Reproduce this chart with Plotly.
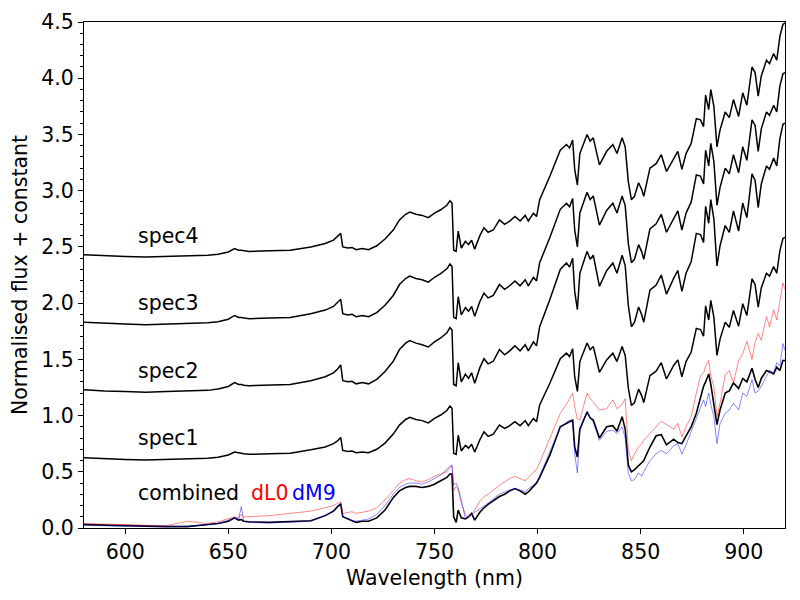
import plotly.graph_objects as go

# Wavelength knots (nm)
wavelength = [580, 590, 600, 610, 620, 630, 640, 645, 650, 653,
              655, 656.3, 657.5, 660, 670, 680, 690, 697, 701, 703,
              704.5, 705.5, 708, 710, 712, 715, 718, 722, 726, 730,
              733, 736, 738, 741, 744, 747, 750, 753, 756, 757.5,
              758.5, 759.3, 760.5, 761.5, 763, 765, 766.5, 768, 769.5, 772,
              774, 776, 778.5, 781.5, 784, 786.5, 789, 791.5, 794, 795.5,
              798, 799.5, 801, 806, 811, 814, 815.5, 817, 818, 819.3,
              820.5, 824, 825.5, 827, 830, 833.5, 836.5, 838.5, 841, 842.5,
              844, 845.5, 847, 849, 850.5, 851.5, 854.5, 857.5, 860, 862.5,
              866, 868, 870, 872, 874.5, 877, 879, 880.5, 881.5, 883,
              884, 885.5, 887, 888.5, 891, 893, 895, 897.5, 899.5, 901.5,
              904, 905.5, 907, 908.5, 911, 912.5, 914.5, 916, 917.5, 919, 920]

# Combined spectrum and the two templates
combined = [0.03, 0.025, 0.022, 0.018, 0.012, 0.012, 0.03, 0.04, 0.06, 0.09,
            0.07, 0.075, 0.06, 0.055, 0.05, 0.055, 0.065, 0.11, 0.15, 0.19,
            0.215, 0.10, 0.08, 0.07, 0.05, 0.06, 0.06, 0.09, 0.16, 0.27,
            0.33, 0.36, 0.37, 0.37, 0.36, 0.37, 0.39, 0.42, 0.45, 0.48,
            0.48, 0.10, 0.05, 0.16, 0.09, 0.08, 0.10, 0.13, 0.07, 0.14,
            0.18, 0.21, 0.24, 0.28, 0.30, 0.33, 0.35, 0.33, 0.30, 0.32,
            0.37, 0.40, 0.45, 0.65, 0.90, 0.93, 0.95, 0.96, 0.72, 0.63,
            0.88, 1.03, 0.98, 0.96, 0.80, 0.90, 0.91, 0.86, 0.99, 0.88,
            0.56, 0.50, 0.52, 0.55, 0.58, 0.60, 0.72, 0.82, 0.83, 0.74,
            0.79, 0.76, 0.75, 0.82, 0.90, 1.02, 1.16, 1.26, 1.30, 1.37,
            1.28, 1.10, 0.92, 1.05, 1.20, 1.22, 1.29, 1.24, 1.33, 1.30,
            1.42, 1.32, 1.25, 1.33, 1.40, 1.39, 1.37, 1.43, 1.40, 1.49, 1.49]

dL0 = [0.04, 0.035, 0.03, 0.03, 0.02, 0.06, 0.04, 0.055, 0.08, 0.10,
       0.09, 0.12, 0.10, 0.10, 0.11, 0.13, 0.15, 0.18, 0.20, 0.22,
       0.235, 0.13, 0.14, 0.145, 0.13, 0.14, 0.15, 0.18, 0.25, 0.33,
       0.40, 0.43, 0.44, 0.42, 0.41, 0.43, 0.46, 0.48, 0.50, 0.54,
       0.55, 0.33, 0.37, 0.34, 0.22, 0.12, 0.10, 0.12, 0.16, 0.24,
       0.28, 0.30, 0.34, 0.38, 0.41, 0.44, 0.46, 0.44, 0.42, 0.45,
       0.49, 0.52, 0.58, 0.80, 1.02, 1.10, 1.15, 1.20, 1.08, 0.97,
       0.96, 1.20, 1.15, 1.12, 1.05, 1.06, 1.14, 1.06, 1.10, 1.15,
       0.69, 0.60, 0.66, 0.72, 0.75, 0.78, 0.84, 0.90, 0.95, 0.92,
       0.88, 0.93, 0.81, 0.90, 0.99, 1.20, 1.35, 1.38, 1.44, 1.49,
       1.35, 1.26, 0.99, 1.11, 1.36, 1.40, 1.29, 1.49, 1.55, 1.66,
       1.50, 1.65, 1.73, 1.67, 1.88, 1.79, 1.94, 1.85, 2.00, 2.18, 2.12]

dM9 = [0.03, 0.02, 0.018, 0.015, 0.012, 0.015, 0.03, 0.04, 0.07, 0.09,
       0.08, 0.19, 0.06, 0.05, 0.045, 0.05, 0.06, 0.11, 0.15, 0.19,
       0.22, 0.10, 0.08, 0.065, 0.06, 0.07, 0.08, 0.12, 0.20, 0.30,
       0.36, 0.39, 0.40, 0.40, 0.39, 0.41, 0.44, 0.47, 0.52, 0.55,
       0.56, 0.38, 0.40, 0.36, 0.25, 0.08, 0.09, 0.12, 0.14, 0.17,
       0.20, 0.22, 0.26, 0.30, 0.32, 0.34, 0.35, 0.34, 0.32, 0.35,
       0.38, 0.41, 0.46, 0.68, 0.90, 0.94, 0.96, 0.95, 0.66, 0.49,
       0.86, 1.04, 0.98, 0.94, 0.78, 0.86, 0.87, 0.84, 0.90, 0.80,
       0.49, 0.42, 0.43, 0.49, 0.46, 0.50, 0.60, 0.66, 0.69, 0.66,
       0.73, 0.75, 0.66, 0.74, 0.86, 0.97, 1.07, 1.14, 1.08, 1.20,
       1.10, 0.99, 0.75, 0.93, 1.02, 1.05, 1.11, 1.05, 1.20, 1.17,
       1.32, 1.20, 1.22, 1.26, 1.35, 1.40, 1.38, 1.47, 1.44, 1.64, 1.58]

# Individual spectra (normalised flux, before the constant is added)
spec1 = [0.00, -0.01, -0.015, -0.02, -0.015, -0.01, -0.005, 0.005, 0.025, 0.05,
         0.04, 0.04, 0.035, 0.03, 0.035, 0.04, 0.07, 0.095, 0.125, 0.15,
         0.18, 0.065, 0.055, 0.06, 0.045, 0.05, 0.045, 0.075, 0.13, 0.21,
         0.29, 0.34, 0.36, 0.34, 0.33, 0.31, 0.35, 0.38, 0.42, 0.46,
         0.44, 0.04, 0.03, 0.20, 0.06, 0.11, 0.085, 0.12, 0.05, 0.16,
         0.23, 0.19, 0.21, 0.29, 0.26, 0.285, 0.32, 0.285, 0.33, 0.285,
         0.35, 0.32, 0.47, 0.665, 0.88, 0.93, 0.90, 0.97, 0.72, 0.59,
         0.855, 1.02, 0.96, 0.99, 0.76, 0.87, 0.93, 0.855, 0.99, 0.91,
         0.62, 0.465, 0.49, 0.61, 0.55, 0.49, 0.73, 0.77, 0.845, 0.70,
         0.82, 0.87, 0.72, 0.855, 0.94, 1.15, 1.14, 1.08, 1.35, 1.225,
         1.40, 1.25, 0.91, 1.055, 1.205, 1.16, 1.31, 1.17, 1.37, 1.265,
         1.59, 1.54, 1.34, 1.51, 1.64, 1.615, 1.70, 1.64, 1.84, 1.95, 1.96]

spec2 = [0.00, -0.012, -0.017, -0.023, -0.017, -0.014, -0.006, 0.006, 0.029, 0.063,
         0.046, 0.046, 0.04, 0.035, 0.04, 0.046, 0.08, 0.115, 0.15, 0.184,
         0.22, 0.08, 0.07, 0.075, 0.052, 0.063, 0.052, 0.092, 0.161, 0.253,
         0.357, 0.414, 0.437, 0.414, 0.40, 0.38, 0.425, 0.46, 0.506, 0.552,
         0.53, 0.046, 0.035, 0.24, 0.07, 0.138, 0.10, 0.15, 0.058, 0.196,
         0.276, 0.23, 0.253, 0.357, 0.31, 0.345, 0.39, 0.345, 0.40, 0.345,
         0.425, 0.39, 0.56, 0.805, 1.07, 1.127, 1.09, 1.17, 0.874, 0.713,
         1.035, 1.23, 1.16, 1.196, 0.92, 1.058, 1.127, 1.035, 1.196, 1.104,
         0.75, 0.56, 0.60, 0.736, 0.667, 0.60, 0.886, 0.93, 1.02, 0.85,
         0.99, 1.06, 0.874, 1.035, 1.14, 1.39, 1.38, 1.31, 1.63, 1.48,
         1.69, 1.52, 1.10, 1.28, 1.46, 1.40, 1.59, 1.41, 1.66, 1.53,
         1.92, 1.86, 1.62, 1.83, 1.99, 1.96, 2.06, 1.99, 2.23, 2.36, 2.37]

spec3 = [0.00, -0.01, -0.016, -0.022, -0.016, -0.013, -0.005, 0.005, 0.027, 0.06,
         0.043, 0.043, 0.038, 0.032, 0.038, 0.043, 0.076, 0.108, 0.14, 0.173,
         0.205, 0.076, 0.065, 0.07, 0.049, 0.059, 0.049, 0.086, 0.151, 0.238,
         0.335, 0.389, 0.41, 0.389, 0.378, 0.356, 0.40, 0.432, 0.475, 0.518,
         0.497, 0.043, 0.032, 0.227, 0.065, 0.13, 0.097, 0.14, 0.054, 0.184,
         0.259, 0.216, 0.238, 0.335, 0.292, 0.324, 0.367, 0.324, 0.378, 0.324,
         0.40, 0.367, 0.529, 0.756, 1.004, 1.058, 1.026, 1.10, 0.82, 0.67,
         0.972, 1.155, 1.09, 1.123, 0.864, 0.994, 1.058, 0.972, 1.123, 1.037,
         0.70, 0.53, 0.56, 0.69, 0.626, 0.56, 0.83, 0.875, 0.96, 0.80,
         0.93, 0.99, 0.82, 0.97, 1.07, 1.31, 1.30, 1.23, 1.53, 1.39,
         1.59, 1.43, 1.04, 1.20, 1.37, 1.32, 1.49, 1.33, 1.56, 1.44,
         1.80, 1.75, 1.52, 1.72, 1.87, 1.84, 1.93, 1.87, 2.10, 2.21, 2.22]

spec4 = [0.00, -0.01, -0.015, -0.02, -0.015, -0.012, -0.005, 0.005, 0.025, 0.055,
         0.04, 0.04, 0.035, 0.03, 0.035, 0.04, 0.07, 0.10, 0.13, 0.16,
         0.19, 0.07, 0.06, 0.065, 0.045, 0.055, 0.045, 0.08, 0.14, 0.22,
         0.31, 0.36, 0.38, 0.36, 0.35, 0.33, 0.37, 0.40, 0.44, 0.48,
         0.46, 0.04, 0.03, 0.21, 0.06, 0.12, 0.09, 0.13, 0.05, 0.17,
         0.24, 0.20, 0.22, 0.31, 0.27, 0.30, 0.34, 0.30, 0.35, 0.30,
         0.37, 0.34, 0.49, 0.70, 0.93, 0.98, 0.95, 1.02, 0.76, 0.62,
         0.90, 1.07, 1.01, 1.04, 0.80, 0.92, 0.98, 0.90, 1.04, 0.96,
         0.65, 0.49, 0.52, 0.64, 0.58, 0.52, 0.77, 0.81, 0.89, 0.74,
         0.86, 0.92, 0.76, 0.90, 0.99, 1.21, 1.20, 1.14, 1.42, 1.29,
         1.47, 1.32, 0.96, 1.11, 1.27, 1.22, 1.38, 1.23, 1.44, 1.33,
         1.67, 1.62, 1.41, 1.59, 1.73, 1.70, 1.79, 1.73, 1.94, 2.05, 2.06]

spec_names = ["spec1", "spec2", "spec3", "spec4"]
spec_offsets = [0.625, 1.23, 1.83, 2.43]
spec_label_y = [0.8, 1.4, 2.0, 2.6]

FONT = "DejaVu Sans"
FS = 20.5
fig = go.Figure()

for name, flux, off in zip(spec_names, [spec1, spec2, spec3, spec4], spec_offsets):
    fig.add_trace(go.Scatter(x=wavelength, y=[v + off for v in flux], mode="lines",
                             line=dict(color="black", width=1.5), name=name,
                             showlegend=False))

fig.add_trace(go.Scatter(x=wavelength, y=combined, mode="lines",
                         line=dict(color="black", width=1.6), name="combined",
                         showlegend=False))
fig.add_trace(go.Scatter(x=wavelength, y=dL0, mode="lines",
                         line=dict(color="rgba(255,0,0,0.6)", width=0.8), name="dL0",
                         showlegend=False))
fig.add_trace(go.Scatter(x=wavelength, y=dM9, mode="lines",
                         line=dict(color="rgba(0,0,255,0.6)", width=0.8), name="dM9",
                         showlegend=False))

for name, ly in zip(spec_names, spec_label_y):
    fig.add_annotation(x=605, y=ly, text=name, showarrow=False, xanchor="left",
                       yanchor="middle", font=dict(family=FONT, size=FS, color="black"))
fig.add_annotation(x=605, y=0.31, text="combined", showarrow=False, xanchor="left",
                   yanchor="middle", font=dict(family=FONT, size=FS, color="black"))
fig.add_annotation(x=660, y=0.31, text="dL0", showarrow=False, xanchor="left",
                   yanchor="middle", font=dict(family=FONT, size=FS, color="red"))
fig.add_annotation(x=680, y=0.31, text="dM9", showarrow=False, xanchor="left",
                   yanchor="middle", font=dict(family=FONT, size=FS, color="blue"))

axis_common = dict(showline=True, linecolor="black", linewidth=1, mirror=True,
                   showgrid=False, zeroline=False, ticks="outside", ticklen=5,
                   tickwidth=1, tickcolor="black", automargin=False,
                   tickfont=dict(family=FONT, size=FS, color="black"))

fig.update_xaxes(range=[580, 920], tick0=600, dtick=50,
                 title=dict(text="Wavelength (nm)", standoff=8,
                            font=dict(family=FONT, size=FS, color="black")),
                 **axis_common)
fig.update_yaxes(range=[0, 4.5], tick0=0, dtick=0.5, tickformat=".1f",
                 minor=dict(dtick=0.1, ticks="outside", ticklen=3, tickcolor="black",
                            showgrid=False),
                 title=dict(text="Normalised flux + constant", standoff=10,
                            font=dict(family=FONT, size=FS, color="black")),
                 **axis_common)

# page body has an 8px margin; size the figure so the plot area lands at 84..785 x 22..528
fig.update_layout(width=792, height=592, plot_bgcolor="white", paper_bgcolor="white",
                  margin=dict(l=76, r=15, t=14, b=72),
                  font=dict(family=FONT, size=FS, color="black"))

fig.write_html("out.html")
